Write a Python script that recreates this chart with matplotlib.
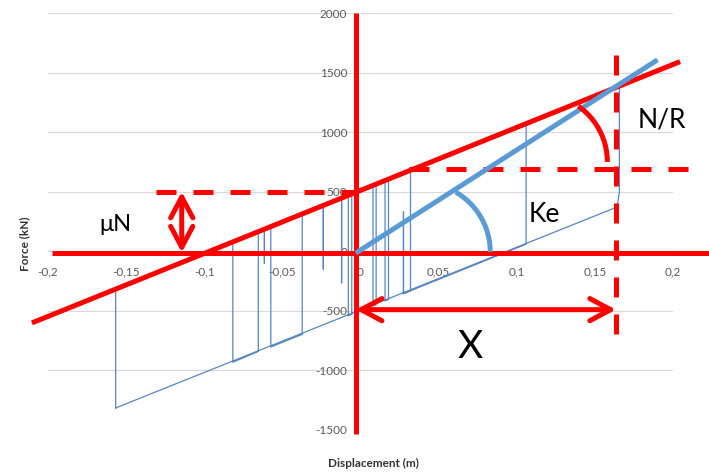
import numpy as np
import matplotlib
matplotlib.use("Agg")
import matplotlib.pyplot as plt
from matplotlib.patches import FancyArrowPatch, ArrowStyle

# ---- hysteresis loop (displacement in m, force in kN) ----
disp = [-0.1567, -0.1567, -0.0817, -0.0817, -0.0654, -0.0654, -0.0615, -0.0615,
        -0.0615, -0.0574, -0.0574, -0.0373, -0.0373, -0.0238, -0.0238, -0.0238,
        -0.0121, -0.0121, -0.0121, -0.0078, -0.0078, -0.0056, -0.0056, 0.0080,
        0.0080, 0.0100, 0.0100, 0.0157, 0.0157, 0.0179, 0.0179, 0.0320, 0.0320,
        0.0275, 0.0275, 0.0275, 0.1060, 0.1060, 0.1657, 0.1657, 0.1645, 0.1630,
        -0.1567]
force = [-1315, -322, 74, -931, -840, 160, 180, -100,
         180, 202, -803, -697, 308, 379, -150, 379,
         441, -265, 441, 464, -541, -530, 475, 547,
         -458, -447, 558, 588, -417, -405, 600, 674, -331,
         -355, 330, -355, 60, 1065, 1380, 500, 400, 365,
         -1315]

x_ticks = [-0.2, -0.15, -0.1, -0.05, 0, 0.05, 0.1, 0.15, 0.2]
x_ticklabels = ["-0,2", "-0,15", "-0,1", "-0,05", "0", "0,05", "0,1", "0,15", "0,2"]
y_ticks = [-1500, -1000, -500, 0, 500, 1000, 1500, 2000]
y_ticklabels = [str(v) for v in y_ticks]

# ---- model construction lines ----
friction_line_x = [-0.2103, 0.2045]      # post-sliding branch (slope N/R)
friction_line_f = [-601, 1592]
ke_line_x = [-0.003, 0.1901]             # elastic stiffness Ke
ke_line_f = [-15, 1607]
mu_n = 500                               # friction force level
x_max = 0.1635                           # maximum displacement X
level_xmax = 690
mu_arrow_x = -0.1144
x_arrow_f = -490

RED = "#ff0000"
BLUE_THIN = "#5686c4"
BLUE_KE = "#5b9bd5"
LW = 3.6
DASH = (0, (4, 3.4))

plt.rcParams["font.family"] = ["Lato", "DejaVu Sans"]

fig = plt.figure(figsize=(7.09, 4.72), dpi=100)
ax = fig.add_axes([48 / 709, 1 - 430 / 472, 625 / 709, 417 / 472])
ax.set_xlim(-0.2, 0.2)
ax.set_ylim(-1500, 2000)

ax.set_xticks(x_ticks)
ax.set_xticklabels(x_ticklabels)
ax.set_yticks(y_ticks)
ax.set_yticklabels(y_ticklabels)
ax.tick_params(length=0, labelsize=8.5, labelcolor="#595959")
ax.tick_params(axis="x", pad=11)
ax.tick_params(axis="y", pad=9.5)
for side in ("left", "bottom"):
    ax.spines[side].set_position(("data", 0))
    ax.spines[side].set_visible(False)
for side in ("right", "top"):
    ax.spines[side].set_visible(False)
ax.set_axisbelow(True)
ax.yaxis.grid(True, color="#d9d9d9", lw=0.8)
ax.xaxis.grid(False)

# measured loop
ax.plot(disp, force, color=BLUE_THIN, lw=0.9, zorder=2)

# axes drawn over the chart
ax.plot([-0.1976, 0.2234], [-15, -15], color=RED, lw=LW, zorder=4,
        clip_on=False, solid_capstyle="butt")
ax.plot([-0.003, -0.003], [2000, -1533], color=RED, lw=LW, zorder=4,
        clip_on=False, solid_capstyle="butt")

# friction branch and reference levels
ax.plot(friction_line_x, friction_line_f, color=RED, lw=LW, zorder=4,
        clip_on=False, solid_capstyle="butt")
ax.plot([-0.131, -0.003], [mu_n, mu_n], color=RED, lw=LW, ls=DASH, zorder=4)
ax.plot([0.031, 0.213], [level_xmax, level_xmax], color=RED, lw=LW, ls=DASH,
        zorder=4, clip_on=False)
ax.plot([x_max, x_max], [1650, -700], color=RED, lw=LW, ls=DASH, zorder=4)

# elastic stiffness line
ax.plot(ke_line_x, ke_line_f, color=BLUE_KE, lw=LW, zorder=5,
        solid_capstyle="butt")


def angle_arc(cx, cf, r_px, t0, t1, color):
    """Circular arc (in screen pixels) around a point given in data units."""
    sx = 1560.0   # px per metre
    sf = 0.1191   # px per kN
    t = np.radians(np.linspace(t0, t1, 60))
    ax.plot(cx + r_px * np.cos(t) / sx, cf + r_px * np.sin(t) / sf,
            color=color, lw=LW, zorder=5, solid_capstyle="butt")


angle_arc(0.1144, 750, 68, 0, 55, RED)
angle_arc(0.0388, -5, 69, 0, 60, BLUE_KE)

style = ArrowStyle("<->", head_length=15, head_width=8)
for a, b in [((mu_arrow_x, mu_n), (mu_arrow_x, -10)),
             ((-0.003, x_arrow_f), (x_max, x_arrow_f))]:
    ax.add_patch(FancyArrowPatch(a, b, arrowstyle=style, mutation_scale=1,
                                 color=RED, lw=LW, shrinkA=0, shrinkB=0,
                                 joinstyle="round", capstyle="round",
                                 zorder=5))

ax.text(0.1772, 1036, "N/R", fontsize=19, ha="left", va="baseline", zorder=6)
ax.text(0.1074, 247, "Ke", fontsize=19, ha="left", va="baseline", zorder=6)
ax.text(0.0702, -895, "X", fontsize=28, ha="center", va="baseline", zorder=6)
ax.text(-0.1670, 171, "\u03bcN", fontsize=17, ha="left", va="baseline", zorder=6)

fig.text(373 / 709, 1 - 463 / 472, "Displacement (m)", fontsize=8.5,
         fontweight="bold", color="#333333", ha="center", va="center")
fig.text(25 / 709, 1 - 244 / 472, "Force (kN)", fontsize=8.5,
         fontweight="bold", color="#333333", ha="center", va="center",
         rotation=90)

fig.savefig("out.png", dpi=100)
